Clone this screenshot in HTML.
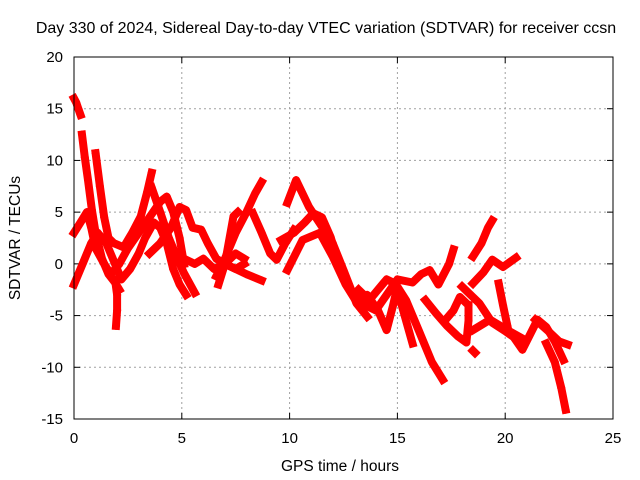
<!DOCTYPE html>
<html><head><meta charset="utf-8"><style>
body{margin:0;background:#fff;}
svg{display:block;font-family:"Liberation Sans",sans-serif;}
</style></head><body>
<svg id="chart" width="640" height="480" xmlns="http://www.w3.org/2000/svg">
<text x="326" y="33" font-size="16" text-anchor="middle">Day 330 of 2024, Sidereal Day-to-day VTEC variation (SDTVAR) for receiver ccsn</text>
<text x="340" y="471" font-size="15.5" text-anchor="middle">GPS time / hours</text>
<text transform="translate(20,238) rotate(-90)" font-size="15.5" text-anchor="middle">SDTVAR / TECUs</text>
<g id="grid"></g><g id="ticks"></g><g id="marks"></g>
<rect x="74" y="57" width="539" height="362" fill="none" stroke="#000" stroke-width="1"/>
</svg>
<script>
const xTicks=[0,5,10,15,20,25];
const yTicks=[20,15,10,5,0,-5,-10,-15];
const s1=[[0,16],[0.1,15.6],[0.2,15],[0.3,14.4]];
const s2=[[0.37,12.5],[0.5,10.3],[0.65,8.1],[0.83,5.2],[1.0,3],[1.3,0.5],[1.6,-1],[1.9,-1.8],[2.1,-2.5]];
const s3=[[1.0,10.7],[1.2,7.5],[1.4,4.5],[1.6,2.5],[1.85,2],[2.3,1.6],[2.7,3],[3.1,4.6],[3.4,7],[3.6,8.8]];
const s4=[[1.9,-1.5],[2.0,-3],[2.0,-4.5],[1.95,-6]];
const s5=[[0,-2],[0.4,0],[0.8,2],[1.1,3],[1.5,2],[1.9,0],[2.2,-1.5],[2.6,-0.5],[3.0,1],[3.3,2.5],[3.7,4],[4.0,3.5],[4.3,2],[4.6,-0.5],[4.9,-2],[5.2,-3]];
const s6=[[0,3],[0.3,4],[0.6,5],[0.8,3.5],[1.0,1.5],[1.4,0],[1.7,-1],[2.1,0],[2.5,1.5],[3.0,3],[3.5,4.5],[4.0,6],[4.3,6.5],[4.6,5],[4.9,2.5],[5.1,0]];
const s7=[[3.6,7.4],[4.0,5],[4.4,2.5],[4.8,0.5],[5.1,-0.9],[5.6,-2.8]];
const s8=[[3.5,1],[4.0,2],[4.5,3.5],[4.9,5.5],[5.2,5.2],[5.5,3.5],[5.9,3.3],[6.2,2],[6.6,0.5],[7.0,0],[7.5,1],[7.9,0.5]];
const s9=[[5.1,0.5],[5.6,0],[6.0,0.5],[6.5,-0.5],[7.0,0],[7.5,-0.5],[7.9,0]];
const s10=[[6.6,-1.2],[7.0,0.5],[7.5,3],[8.0,5],[8.4,6.8],[8.7,7.9]];
const s11=[[6.7,-2],[7.0,0],[7.4,4.6],[7.6,5]];
const s12=[[7.0,0],[7.5,-0.5],[8.0,-1],[8.7,-1.6]];
const s13=[[8.3,4.9],[8.7,3],[9.1,1],[9.4,0.4],[9.8,2],[10.2,3.3]];
const s14=[[9.9,5.9],[10.3,8.1],[10.9,5.5],[11.5,3.6],[12.0,2],[12.5,-0.6],[13.1,-3.8],[13.6,-5.1]];
const s15=[[9.6,2.3],[10.2,3],[10.7,4],[11.1,4.9],[11.5,4.5],[11.9,2.6],[12.5,-1.5],[13.0,-3],[13.5,-4],[14.0,-4.5]];
const s16=[[9.9,-0.6],[10.6,2.3],[11.4,3],[12.0,0.7],[12.6,-2],[13.2,-4],[13.6,-3],[14.1,-4.5],[14.5,-6.4],[14.8,-4],[15.0,-2.2],[15.4,-3.5],[16.0,-6.5],[16.6,-9.5],[17.1,-11.2]];
const s17=[[13.2,-2.5],[13.7,-3.5],[14.1,-2.5],[14.5,-1.5],[14.8,-1.8],[15.2,-4],[15.7,-7.7]];
const s18=[[13.4,-3.2],[14.0,-4.5],[14.5,-3],[15.0,-1.5],[15.7,-1.8],[16.1,-1],[16.5,-0.6],[16.9,-2],[17.4,0],[17.6,1.4]];
const s19=[[16.3,-3.5],[16.8,-4.8],[17.3,-6],[17.8,-7],[18.2,-7.6],[18.3,-5.5],[18.3,-4]];
const s20=[[17.2,-5.5],[17.6,-4.5],[17.9,-3.2],[18.2,-3.8]];
const s21=[[18.5,0.7],[18.9,2],[19.2,3.5],[19.4,4.2]];
const s22=[[18.5,-1.9],[19.0,-0.8],[19.4,0.4],[19.9,-0.3],[20.5,0.6]];
const s23=[[18.0,-2.2],[18.8,-3.8],[19.4,-5.7],[20.0,-6.5],[20.4,-7.1],[20.8,-8.3],[21.5,-5.4],[21.9,-6.1],[22.3,-7.5],[22.7,-9.3]];
const s24=[[18.5,-6.4],[19.3,-5.4],[20.1,-6.4],[20.7,-7.1]];
const s25=[[19.7,-1.9],[19.9,-4],[20.1,-6]];
const s26=[[21.4,-5.4],[22.0,-6.5],[22.5,-7.5],[22.9,-7.8]];
const s27=[[21.9,-7.7],[22.3,-9.5],[22.6,-12],[22.8,-14.1]];
const s28=[[18.5,-8.4],[18.6,-8.6]];
const seriesList=[s1,s2,s3,s4,s5,s6,s7,s8,s9,s10,s11,s12,s13,s14,s15,s16,s17,s18,s19,s20,s21,s22,s23,s24,s25,s26,s27,s28];
const X0=74,X1=613,Y0=419,Y1=57;
function xs(v){return X0+(v-0)/(25-0)*(X1-X0);}
function ys(v){return Y0-(v+15)/(20+15)*(Y0-Y1);}
const NS="http://www.w3.org/2000/svg";
const grid=document.getElementById('grid'),ticks=document.getElementById('ticks'),marks=document.getElementById('marks');
function mk(t,a,p){const e=document.createElementNS(NS,t);for(const k in a)e.setAttribute(k,a[k]);p.appendChild(e);return e;}
xTicks.forEach(t=>{const x=xs(t);
 if(t>0&&t<25){const g=mk('line',{x1:x,x2:x,y1:Y0,y2:Y1,stroke:'#a0a0a0','stroke-dasharray':'2,3'},grid);
 
 }
 mk('line',{x1:x,x2:x,y1:Y0,y2:Y0-6,stroke:'#000'},ticks);
 mk('line',{x1:x,x2:x,y1:Y1,y2:Y1+6,stroke:'#000'},ticks);
 const l=mk('text',{x:x,y:Y0+24,'font-size':15,'text-anchor':'middle'},ticks);l.textContent=t;
 
 });
yTicks.forEach(t=>{const y=ys(t);
 if(t>-15&&t<20){const g=mk('line',{x1:X0,x2:X1,y1:y,y2:y,stroke:'#a0a0a0','stroke-dasharray':'2,3'},grid);
 
 }
 mk('line',{x1:X0,x2:X0+6,y1:y,y2:y,stroke:'#000'},ticks);
 mk('line',{x1:X1,x2:X1-6,y1:y,y2:y,stroke:'#000'},ticks);
 const l=mk('text',{x:X0-11,y:y+5,'font-size':15,'text-anchor':'end'},ticks);l.textContent=String(t);
 
 });
seriesList.forEach(s=>{
 const pts=s.map(p=>xs(p[0]).toFixed(1)+','+ys(p[1]).toFixed(1)).join(' ');
 const pl=mk('polyline',{points:pts,fill:'none',stroke:'#ff0000','stroke-width':8,'stroke-linejoin':'round','stroke-linecap':'square'},marks);
 
 
 s.forEach(p=>{const x=xs(p[0]),y=ys(p[1]);
  const m=mk('path',{d:`M${x-4},${y}H${x+4}M${x},${y-4}V${y+4}`,stroke:'#ff0000','stroke-width':1.5},marks);
  
  });
});
</script>
</body></html>
